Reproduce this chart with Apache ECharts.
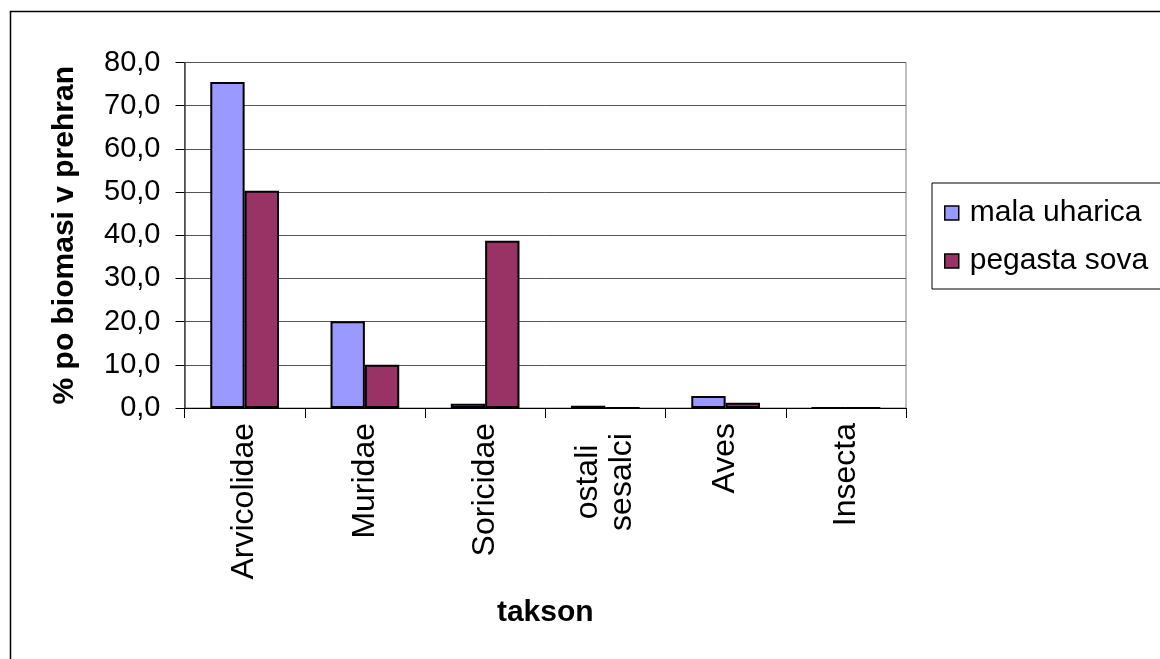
<!DOCTYPE html>
<html>
<head>
<meta charset="utf-8">
<script src="https://cdn.jsdelivr.net/npm/echarts@6/dist/echarts.min.js"></script>
<style>
  html, body { margin: 0; padding: 0; background: #fff; }
  #chart { width: 1160px; height: 659px; }
</style>
</head>
<body>
<div id="chart"></div>
<script>
// Taxa found in the diet
const categories = ['Arvicolidae', 'Muridae', 'Soricidae', 'ostali\nsesalci', 'Aves', 'Insecta'];
// Share of biomass in the diet (%)
const malaUharica = [75.5, 20.1, 1.0, 0.5, 2.8, 0.0];
const pegastaSova = [50.3, 10.0, 38.7, 0.0, 1.2, 0.0];
const seriesNames = ['mala uharica', 'pegasta sova'];
const yTicks = { min: 0, max: 80, interval: 10 };

const FONT = '"Liberation Sans", Arial, sans-serif';
const chart = echarts.init(document.getElementById('chart'), null, { renderer: 'canvas' });

function fmtComma(v) { return v.toFixed(1).replace('.', ','); }

// Two-line category names: lines centred on each other, block kept below the axis
const categoryData = categories.map(function (c) {
  if (c.indexOf('\n') < 0) return c;
  return { value: c, textStyle: { align: 'center', padding: [0, 118, 0, 0] } };
});

chart.setOption({
  animation: false,
  backgroundColor: '#ffffff',
  textStyle: { fontFamily: FONT },
  graphic: [{
    type: 'rect',
    shape: { x: 10.5, y: 11.5, width: 1300, height: 800 },
    style: { fill: 'none', stroke: '#000', lineWidth: 1.5 },
    silent: true,
    z: -1
  }],
  grid: { left: 184.5, right: 254, top: 62.5, bottom: 251, containLabel: false,
          show: true, borderColor: '#808080', borderWidth: 1 },
  legend: {
    orient: 'vertical',
    left: 932, top: 183,
    padding: [15, 20, 13, 12],
    itemWidth: 14, itemHeight: 14, itemGap: 18,
    borderColor: '#000', borderWidth: 1,
    icon: 'rect',
    itemStyle: { borderColor: '#000', borderWidth: 1.5 },
    textStyle: { fontFamily: FONT, fontSize: 30, lineHeight: 28, color: '#000', padding: [0, 0, 0, 6] },
    data: seriesNames
  },
  xAxis: {
    type: 'category',
    data: categoryData,
    boundaryGap: true,
    axisLine: { lineStyle: { color: '#000', width: 1 } },
    axisTick: { show: true, interval: 0, length: 10, lineStyle: { color: '#000' } },
    axisLabel: {
      interval: 0, rotate: 90, margin: 15,
      fontFamily: FONT, fontSize: 32, lineHeight: 34, color: '#000'
    },
    name: 'takson',
    nameLocation: 'middle',
    nameGap: 190,
    nameTextStyle: { fontFamily: FONT, fontSize: 30, fontWeight: 'bold', color: '#000' }
  },
  yAxis: {
    type: 'value',
    min: yTicks.min, max: yTicks.max, interval: yTicks.interval,
    axisLine: { show: true, lineStyle: { color: '#404040', width: 1.5 } },
    axisTick: { show: true, length: 9, lineStyle: { color: '#000' } },
    splitLine: { show: true, lineStyle: { color: '#555', width: 1 } },
    axisLabel: { margin: 24, fontFamily: FONT, fontSize: 29, color: '#000', formatter: fmtComma },
    name: '% po biomasi v prehran',
    nameLocation: 'middle',
    nameGap: 105,
    nameTextStyle: { fontFamily: FONT, fontSize: 30, fontWeight: 'bold', color: '#000' }
  },
  series: [
    {
      name: seriesNames[0], type: 'bar', data: malaUharica,
      barGap: '0%', barCategoryGap: '42.86%',
      itemStyle: { color: '#9999FF', borderColor: '#000', borderWidth: 2 }
    },
    {
      name: seriesNames[1], type: 'bar', data: pegastaSova,
      barGap: '0%', barCategoryGap: '42.86%',
      itemStyle: { color: '#993366', borderColor: '#000', borderWidth: 2 }
    }
  ]
});
</script>
</body>
</html>
